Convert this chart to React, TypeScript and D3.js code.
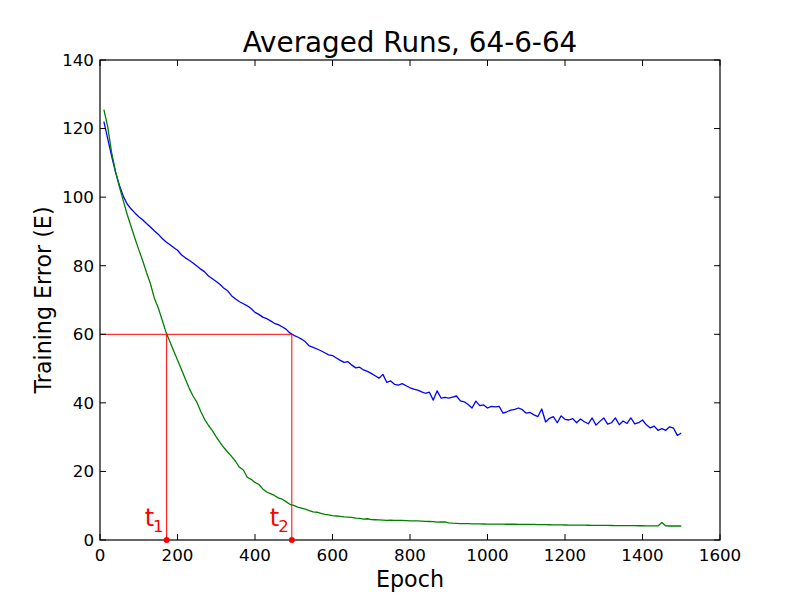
import * as d3 from "d3";

// ---------------------------------------------------------------------------
// Data
// ---------------------------------------------------------------------------

const EPOCHS = d3.range(10, 1501, 10);

// 64-6-64 run A (blue)
const BLUE_ERROR = [
  122, 117, 112, 107.3, 103.5, 100.3, 98, 96.6, 95.4, 94.3,
  93.4, 92.3, 91.3, 90.2, 89.2, 88, 87, 86.2, 85.3, 84.5,
  83.2, 82.3, 81.6, 80.8, 79.9, 79, 78.2, 77, 76.2, 75.4,
  74.5, 73.4, 72.6, 71.2, 70.3, 69.5, 68.9, 68.3, 67.5, 66.4,
  65.8, 65, 64.6, 63.9, 63.2, 62.8, 62.2, 61.5, 60.4, 59.7,
  59.2, 58.6, 57.8, 56.6, 56.2, 55.7, 55.2, 54.6, 54, 53.8,
  53.1, 52.4, 51.8, 52, 51, 50.2, 50.4, 49.6, 49.2, 48.6,
  47.9, 47.2, 48.3, 46, 46.4, 45.4, 45.2, 45.6, 45, 44.4,
  44, 43.7, 43.2, 42.8, 43.1, 40.8, 43.5, 41.4, 41.6, 41.4,
  41.7, 42, 40.6, 40.3, 39.5, 38.5, 40.5, 39.2, 39.4, 38.5,
  39, 38.8, 39, 37, 37.4, 37.9, 38.1, 38.5, 38, 37,
  37.2, 36.5, 36, 38.2, 34.4, 35.5, 36, 34.2, 36.2, 35.2,
  35, 35.4, 34.2, 35.3, 34.5, 33.9, 35.6, 33.5, 34.6, 35.6,
  33.8, 34.2, 35.6, 33.6, 34.7, 34, 35.6, 33.9, 34.2, 35,
  33.6, 32.7, 33.2, 32, 32.5, 32, 33, 32.6, 30.5, 31.2,
];

// run B (green)
const GREEN_ERROR = [
  125.5, 120.5, 113, 107.5, 103, 99, 95, 91.5, 88, 84.7,
  81.5, 78, 74.8, 70.6, 67.8, 64.3, 60.7, 58, 55.2, 52.5,
  49.8, 47, 44.3, 42, 40.2, 37.5, 35.2, 33.4, 31.9, 30.1,
  28.4, 26.9, 25.6, 24.3, 22.9, 21.2, 20.4, 18.3, 17.7, 16.8,
  16.2, 14.9, 14, 13.5, 13, 12.3, 11.9, 11.2, 10.4, 10.1,
  9.6, 9.3, 9, 8.6, 8.2, 8.1, 7.8, 7.5, 7.3, 7.1,
  7, 6.9, 6.75, 6.7, 6.6, 6.4, 6.3, 6.1, 6.2, 5.95,
  5.9, 5.85, 5.8, 5.75, 5.8, 5.7, 5.75, 5.7, 5.65, 5.6,
  5.6, 5.55, 5.5, 5.45, 5.4, 5.35, 5.2, 5.25, 5.3, 5.0,
  4.9, 4.85, 4.8, 4.78, 4.75, 4.72, 4.7, 4.68, 4.66, 4.65,
  4.64, 4.63, 4.62, 4.61, 4.6, 4.6, 4.59, 4.58, 4.58, 4.57,
  4.55, 4.53, 4.51, 4.49, 4.47, 4.45, 4.43, 4.41, 4.39, 4.37,
  4.36, 4.35, 4.33, 4.32, 4.31, 4.3, 4.28, 4.27, 4.26, 4.25,
  4.24, 4.23, 4.22, 4.21, 4.2, 4.19, 4.18, 4.17, 4.16, 4.15,
  4.14, 4.13, 4.12, 4.1, 5.1, 4.1, 4.09, 4.09, 4.08, 4.08,
];

// threshold markers
const THRESHOLD = 60;
const MARKER_EPOCHS = [172, 495];
const MARKER_LABELS = ["1", "2"];

const X_TICKS = d3.range(0, 1601, 200);
const Y_TICKS = d3.range(0, 141, 20);

// ---------------------------------------------------------------------------

const W = 800;
const H = 600;
const M = { left: 100, right: 80, top: 60, bottom: 60 };
const FONT = "DejaVu Sans, sans-serif";
const TICK = 6;

export default function App() {
  const x = d3.scaleLinear().domain([0, 1600]).range([M.left, W - M.right]);
  const y = d3.scaleLinear().domain([0, 140]).range([H - M.bottom, M.top]);

  const line = d3
    .line<number>()
    .x((_d, i) => x(EPOCHS[i]))
    .y((d) => y(d));

  const x0 = x(0);
  const x1 = x(1600);
  const y0 = y(0);
  const y1 = y(140);

  return (
    <svg
      width={W}
      height={H}
      style={{ position: "absolute", left: 0, top: 0, background: "#fff" }}
      fontFamily={FONT}
    >
      <rect x={0} y={0} width={W} height={H} fill="#fff" />

      {/* title */}
      <text x={(x0 + x1) / 2} y={52} textAnchor="middle" fontSize={27.8} fill="#000">
        Averaged Runs, 64-6-64
      </text>

      {/* series */}
      <g fill="none" strokeWidth={1.3} strokeLinejoin="round">
        <path d={line(BLUE_ERROR) ?? ""} stroke="#0000ff" />
        <path d={line(GREEN_ERROR) ?? ""} stroke="#008000" />
      </g>

      {/* threshold lines */}
      <g stroke="#ff0000" strokeWidth={1}>
        <line x1={x0} x2={x(MARKER_EPOCHS[1])} y1={y(THRESHOLD)} y2={y(THRESHOLD)} />
        {MARKER_EPOCHS.map((e) => (
          <line key={e} x1={x(e)} x2={x(e)} y1={y(0)} y2={y(THRESHOLD)} />
        ))}
      </g>

      {/* frame */}
      <rect
        x={x0}
        y={y1}
        width={x1 - x0}
        height={y0 - y1}
        fill="none"
        stroke="#000"
        strokeWidth={1.2}
      />

      {/* ticks, inside on all sides */}
      <g stroke="#000" strokeWidth={1}>
        {X_TICKS.map((t) => (
          <g key={"x" + t}>
            <line x1={x(t)} x2={x(t)} y1={y0} y2={y0 - TICK} />
            <line x1={x(t)} x2={x(t)} y1={y1} y2={y1 + TICK} />
          </g>
        ))}
        {Y_TICKS.map((t) => (
          <g key={"y" + t}>
            <line x1={x0} x2={x0 + TICK} y1={y(t)} y2={y(t)} />
            <line x1={x1} x2={x1 - TICK} y1={y(t)} y2={y(t)} />
          </g>
        ))}
      </g>

      <g fontSize={16.7} fill="#000">
        {X_TICKS.map((t) => (
          <text key={"xl" + t} x={x(t)} y={y0 + 21} textAnchor="middle">
            {t}
          </text>
        ))}
        {Y_TICKS.map((t) => (
          <text key={"yl" + t} x={x0 - 6} y={y(t)} dy="0.35em" textAnchor="end">
            {t}
          </text>
        ))}
      </g>

      {/* marker dots and labels */}
      {MARKER_EPOCHS.map((e, i) => (
        <g key={"m" + e} fill="#ff0000">
          <circle cx={x(e)} cy={y(0)} r={3} />
          <text x={x(e) - 22} y={y(0) - 14} fontSize={24}>
            t
            <tspan dy={6} dx={-1} fontSize={16.5}>
              {MARKER_LABELS[i]}
            </tspan>
          </text>
        </g>
      ))}

      {/* axis labels */}
      <text x={(x0 + x1) / 2} y={587} textAnchor="middle" fontSize={22.2} fill="#000">
        Epoch
      </text>
      <text
        transform={`translate(51, ${(y0 + y1) / 2}) rotate(-90)`}
        textAnchor="middle"
        fontSize={22.2}
        fill="#000"
      >
        Training Error (E)
      </text>
    </svg>
  );
}
